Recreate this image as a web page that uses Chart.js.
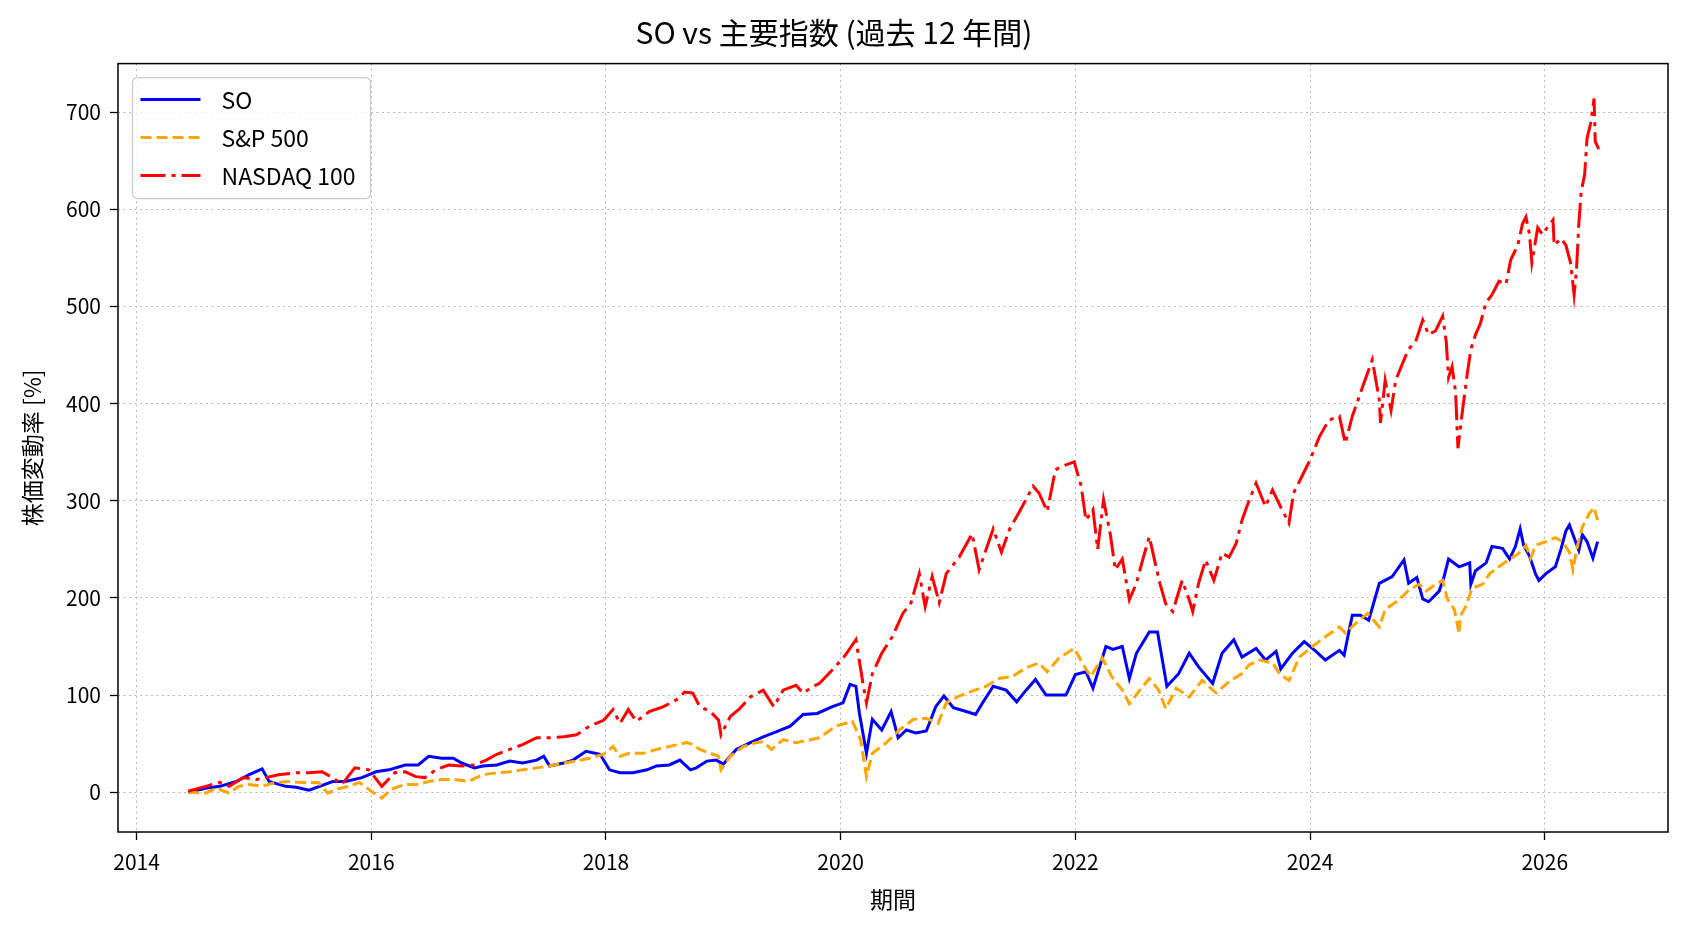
<!DOCTYPE html>
<html lang="ja">
<head>
  <meta charset="UTF-8" />
  <title>SO vs 主要指数 (過去 12 年間)</title>
  <script src="https://cdn.jsdelivr.net/npm/chart.js"></script>
  <style>
    html, body { margin: 0; padding: 0; background: #fff; }
    canvas { display: block; }
  </style>
</head>
<body>
  <canvas id="stockChart" width="1688" height="932"></canvas>

  <script>
    // 目盛り
    const yearTicks = [2014, 2016, 2018, 2020, 2022, 2024, 2026];
    const pctTicks = [0, 100, 200, 300, 400, 500, 600, 700];

    // SO (年, 変動率%)
    const soDates = [2014.44,2014.59,2014.71,2014.85,2014.96,2015.07,2015.13,2015.27,2015.36,2015.47,2015.56,2015.67,2015.78,2015.92,2016.04,2016.15,2016.29,2016.40,2016.49,2016.60,2016.70,2016.77,2016.88,2016.95,2017.07,2017.18,2017.29,2017.41,2017.47,2017.52,2017.64,2017.72,2017.83,2017.95,2018.03,2018.12,2018.23,2018.35,2018.43,2018.54,2018.63,2018.72,2018.77,2018.86,2018.94,2019.00,2019.11,2019.23,2019.34,2019.45,2019.57,2019.68,2019.80,2019.93,2020.02,2020.08,2020.13,2020.16,2020.22,2020.27,2020.35,2020.43,2020.49,2020.56,2020.64,2020.73,2020.81,2020.88,2020.96,2021.07,2021.15,2021.21,2021.30,2021.41,2021.50,2021.58,2021.66,2021.75,2021.92,2022.00,2022.09,2022.15,2022.26,2022.32,2022.40,2022.46,2022.52,2022.63,2022.70,2022.78,2022.88,2022.97,2023.05,2023.17,2023.25,2023.35,2023.42,2023.54,2023.62,2023.71,2023.75,2023.85,2023.95,2024.05,2024.13,2024.25,2024.29,2024.33,2024.36,2024.43,2024.50,2024.59,2024.70,2024.80,2024.84,2024.91,2024.96,2025.01,2025.10,2025.14,2025.18,2025.27,2025.36,2025.37,2025.41,2025.50,2025.55,2025.64,2025.70,2025.75,2025.79,2025.82,2025.87,2025.92,2025.95,2026.01,2026.09,2026.14,2026.18,2026.21,2026.25,2026.29,2026.32,2026.36,2026.41,2026.45];
    const soValues = [0,4,6,11,18,24,11,6,5,2,6,11,11,15,21,23,28,28,37,35,35,30,25,27,28,32,30,33,37,27,30,33,42,39,23,20,20,23,27,28,33,23,25,32,33,29,44,51,57,62,68,80,81,88,92,111,109,81,40,75,64,83,56,64,61,63,88,99,87,83,80,92,109,105,93,105,116,100,100,121,124,107,150,147,150,117,143,165,165,109,122,143,129,112,143,157,139,148,136,145,127,143,155,145,136,146,141,165,182,182,177,215,222,239,215,221,199,196,207,221,240,232,236,214,228,236,253,251,240,253,271,254,243,225,218,225,232,251,269,275,262,249,265,258,241,258];

    // S&P 500
    const spDates = [2014.44,2014.59,2014.68,2014.79,2014.87,2014.96,2015.07,2015.18,2015.30,2015.41,2015.55,2015.63,2015.70,2015.81,2015.90,2016.00,2016.09,2016.17,2016.29,2016.40,2016.49,2016.60,2016.71,2016.83,2016.95,2017.07,2017.18,2017.29,2017.41,2017.52,2017.64,2017.75,2017.86,2017.98,2018.06,2018.12,2018.20,2018.32,2018.43,2018.54,2018.69,2018.74,2018.80,2018.89,2018.96,2018.98,2019.06,2019.17,2019.28,2019.34,2019.41,2019.51,2019.62,2019.74,2019.82,2019.96,2020.10,2020.17,2020.22,2020.27,2020.39,2020.50,2020.62,2020.73,2020.83,2020.90,2021.01,2021.12,2021.24,2021.35,2021.46,2021.58,2021.69,2021.76,2021.86,2021.99,2022.06,2022.13,2022.23,2022.31,2022.40,2022.46,2022.55,2022.63,2022.71,2022.77,2022.86,2022.97,2023.08,2023.20,2023.31,2023.42,2023.48,2023.57,2023.68,2023.74,2023.82,2023.91,2024.02,2024.13,2024.25,2024.30,2024.42,2024.49,2024.59,2024.64,2024.76,2024.84,2024.93,2024.99,2025.07,2025.13,2025.17,2025.23,2025.27,2025.28,2025.33,2025.38,2025.47,2025.53,2025.61,2025.70,2025.77,2025.84,2025.88,2025.92,2026.01,2026.09,2026.15,2026.21,2026.24,2026.28,2026.32,2026.38,2026.42,2026.45];
    const spValues = [0,-1,4,-1,6,8,6,10,11,10,10,-1,3,6,10,1,-6,3,8,8,11,13,13,11,18,20,21,23,25,27,30,32,35,39,47,37,40,40,44,47,51,49,44,40,37,23,37,47,51,52,44,54,51,54,56,68,73,54,16,40,51,64,75,76,71,92,99,104,109,117,119,128,133,124,138,148,133,119,138,119,105,91,105,117,105,86,107,98,115,102,114,122,131,136,133,122,115,139,150,160,170,164,177,184,170,188,198,208,214,207,214,218,199,188,163,181,192,210,214,225,232,240,245,254,241,254,258,262,258,247,229,254,273,287,293,280];

    // NASDAQ 100
    const ndDates = [2014.44,2014.59,2014.71,2014.79,2014.91,2015.02,2015.10,2015.21,2015.36,2015.47,2015.58,2015.67,2015.75,2015.86,2015.98,2016.09,2016.20,2016.29,2016.38,2016.46,2016.55,2016.66,2016.77,2016.88,2016.98,2017.07,2017.18,2017.29,2017.41,2017.52,2017.64,2017.75,2017.86,2017.98,2018.06,2018.12,2018.19,2018.26,2018.37,2018.49,2018.60,2018.67,2018.74,2018.80,2018.89,2018.96,2018.98,2019.06,2019.14,2019.23,2019.34,2019.43,2019.51,2019.62,2019.68,2019.77,2019.82,2019.93,2020.04,2020.13,2020.19,2020.22,2020.27,2020.35,2020.44,2020.53,2020.60,2020.67,2020.72,2020.78,2020.84,2020.90,2021.01,2021.12,2021.18,2021.24,2021.30,2021.37,2021.44,2021.52,2021.64,2021.69,2021.76,2021.83,2021.92,2021.99,2022.05,2022.09,2022.15,2022.19,2022.24,2022.30,2022.34,2022.40,2022.46,2022.52,2022.58,2022.63,2022.68,2022.72,2022.77,2022.83,2022.91,2022.97,2023.00,2023.05,2023.11,2023.18,2023.25,2023.31,2023.37,2023.42,2023.47,2023.54,2023.62,2023.68,2023.76,2023.82,2023.86,2023.93,2024.00,2024.08,2024.16,2024.25,2024.30,2024.36,2024.45,2024.53,2024.59,2024.60,2024.64,2024.69,2024.73,2024.79,2024.84,2024.90,2024.96,2025.01,2025.07,2025.13,2025.16,2025.18,2025.21,2025.24,2025.26,2025.30,2025.34,2025.37,2025.41,2025.45,2025.50,2025.55,2025.61,2025.67,2025.71,2025.77,2025.81,2025.84,2025.87,2025.89,2025.94,2025.98,2026.02,2026.07,2026.08,2026.14,2026.18,2026.22,2026.25,2026.27,2026.29,2026.31,2026.34,2026.36,2026.39,2026.42,2026.43,2026.46];
    const ndValues = [1,6,10,6,15,13,15,18,20,20,21,15,8,25,23,6,20,21,16,15,23,28,27,28,33,39,44,49,56,56,57,59,68,74,85,71,85,73,83,88,95,103,102,88,83,74,59,78,86,98,105,88,105,110,102,109,112,126,141,157,112,92,122,143,160,184,195,225,191,222,195,225,242,266,229,250,271,247,271,288,315,308,289,332,337,340,315,280,291,250,301,264,229,240,198,215,242,263,236,215,194,186,218,198,186,215,239,218,246,242,256,280,297,318,294,311,291,277,308,325,342,366,383,387,359,387,418,445,404,380,424,393,424,442,456,464,486,471,475,490,464,427,438,412,354,394,431,456,471,482,504,512,526,523,548,563,585,592,574,545,581,574,581,589,563,570,563,545,512,537,585,618,636,673,688,714,670,662];

    const toPoints = (xs, ys) => xs.map((x, i) => ({ x, y: ys[i] }));

    Chart.defaults.font.family = "'Noto Sans CJK JP', 'Noto Sans', sans-serif";
    Chart.defaults.color = "#000";

    // 枠線
    const frame = {
      id: "frame",
      afterDraw(chart) {
        const { ctx, chartArea: a } = chart;
        ctx.save();
        ctx.strokeStyle = "#000";
        ctx.lineWidth = 1.5;
        ctx.strokeRect(a.left, a.top, a.right - a.left, a.bottom - a.top);
        ctx.restore();
      }
    };

    // 凡例 (枠付き)
    const legendBox = {
      id: "legendBox",
      afterDraw(chart) {
        const { ctx, chartArea: a } = chart;
        const x = a.left + 14.5, y = a.top + 14, w = 238, h = 121;
        ctx.save();
        ctx.beginPath();
        ctx.roundRect(x, y, w, h, 5);
        ctx.fillStyle = "rgba(255,255,255,0.8)";
        ctx.fill();
        ctx.strokeStyle = "#cccccc";
        ctx.lineWidth = 1.3;
        ctx.stroke();
        ctx.font = "23px 'Noto Sans CJK JP'";
        ctx.textBaseline = "middle";
        chart.data.datasets.forEach((ds, i) => {
          const cy = y + 22 + i * 38;
          ctx.beginPath();
          ctx.setLineDash(ds.borderDash || []);
          ctx.strokeStyle = ds.borderColor;
          ctx.lineWidth = ds.borderWidth;
          ctx.moveTo(x + 8, cy);
          ctx.lineTo(x + 68, cy);
          ctx.stroke();
          ctx.setLineDash([]);
          ctx.fillStyle = "#000";
          ctx.fillText(ds.label, x + 89, cy + 1);
        });
        ctx.restore();
      }
    };

    const gridStyle = {
      color: "#b8b8b8",
      lineWidth: 1,
      tickColor: "#000",
      tickBorderDash: [],
      tickLength: 8,
      tickWidth: 1.3
    };

    new Chart(document.getElementById("stockChart").getContext("2d"), {
      type: "line",
      data: {
        datasets: [
          {
            label: "SO",
            data: toPoints(soDates, soValues),
            borderColor: "#0000ff",
            borderWidth: 3,
            order: 2
          },
          {
            label: "S&P 500",
            data: toPoints(spDates, spValues),
            borderColor: "#ffa500",
            borderWidth: 3,
            borderDash: [11, 5],
            order: 1
          },
          {
            label: "NASDAQ 100",
            data: toPoints(ndDates, ndValues),
            borderColor: "#ff0000",
            borderWidth: 3,
            borderDash: [25, 6, 4, 6],
            order: 0
          }
        ]
      },
      options: {
        responsive: false,
        animation: false,
        devicePixelRatio: 1,
        layout: { padding: { left: 0, right: 20, top: 0, bottom: 0 } },
        elements: { point: { radius: 0 }, line: { tension: 0, fill: false } },
        plugins: {
          legend: { display: false },
          tooltip: { enabled: false },
          title: {
            display: true,
            text: "SO vs 主要指数 (過去 12 年間)",
            font: { size: 30, weight: "normal" },
            color: "#000",
            padding: { top: 15, bottom: 12.6 }
          }
        },
        scales: {
          x: {
            type: "linear",
            min: 2013.842,
            max: 2027.05,
            afterBuildTicks: s => { s.ticks = yearTicks.map(v => ({ value: v })); },
            afterFit: s => { s.height = 100; },
            grid: gridStyle,
            border: { display: false, dash: [2, 3.5] },
            ticks: { font: { size: 21 }, padding: 9, maxRotation: 0, callback: v => String(v) },
            title: { display: true, text: "期間", font: { size: 23 }, padding: { top: 0, bottom: 19 } }
          },
          y: {
            min: -41,
            max: 750,
            afterBuildTicks: s => { s.ticks = pctTicks.map(v => ({ value: v })); },
            afterFit: s => { s.width = 118; },
            grid: gridStyle,
            border: { display: false, dash: [2, 3.5] },
            ticks: { font: { size: 21 }, padding: 9, callback: v => String(v) },
            title: { display: true, text: "株価変動率 [%]", font: { size: 23 }, padding: { top: 18, bottom: 0 } }
          }
        }
      },
      plugins: [frame, legendBox]
    });
  </script>
</body>
</html>
